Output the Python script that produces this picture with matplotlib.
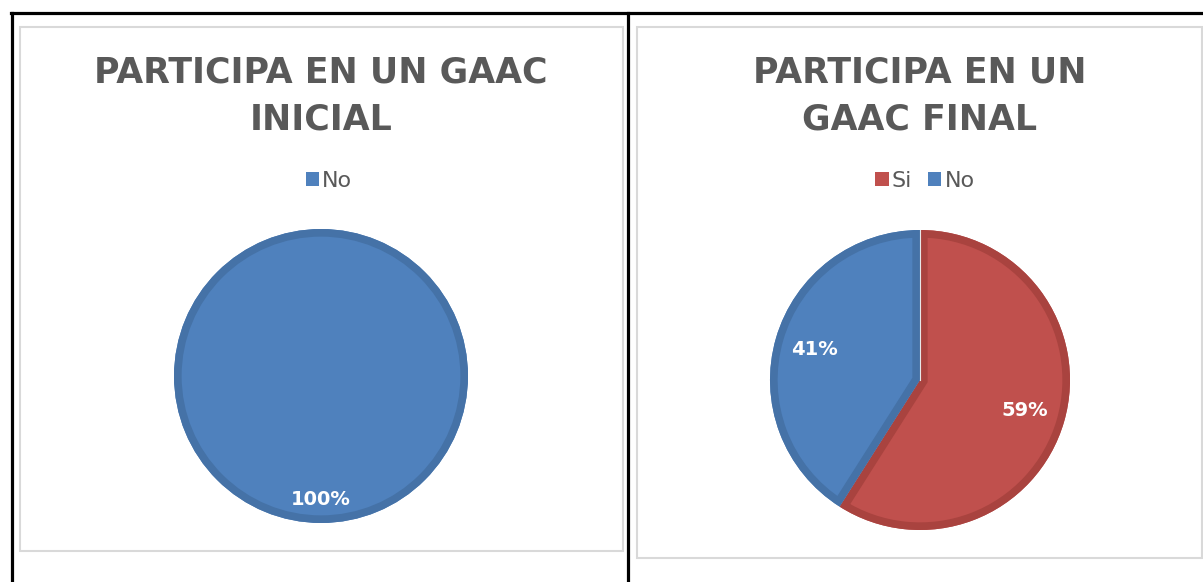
import matplotlib.pyplot as plt
from matplotlib.patches import Rectangle, Patch, PathPatch, Circle
from matplotlib.lines import Line2D

# Datos de las dos gráficas
titulo_inicial = ["PARTICIPA EN UN GAAC", "INICIAL"]
etiquetas_inicial = ["No"]
valores_inicial = [100]

titulo_final = ["PARTICIPA EN UN", "GAAC FINAL"]
etiquetas_final = ["Si", "No"]
valores_final = [59, 41]

colores = {"Si": "#C0504D", "No": "#4F81BD"}
bordes = {"Si": "#A9433F", "No": "#4572A7"}

W, H = 1203, 582
fig = plt.figure(figsize=(W / 100, H / 100), dpi=100)
fig.patch.set_facecolor("white")


# Pasa pixeles (desde arriba a la izquierda) a coordenadas de figura
def fx(x):
    return x / W


def fy(y):
    return 1 - y / H


# Líneas de la tabla
fig.add_artist(Line2D([fx(11), 1], [fy(13), fy(13)], color="black", lw=2.3))
fig.add_artist(Line2D([fx(11.5), fx(11.5)], [fy(13), 0], color="black", lw=2.3))
fig.add_artist(Line2D([fx(628), fx(628)], [fy(13), 0], color="black", lw=2.3))

# Marcos de las gráficas
fig.add_artist(Rectangle((fx(20), fy(551)), fx(623) - fx(20), fy(27) - fy(551),
                         transform=fig.transFigure, fill=False, ec="#D9D9D9", lw=1.5))
fig.add_artist(Rectangle((fx(637), fy(558)), fx(1202) - fx(637), fy(27) - fy(558),
                         transform=fig.transFigure, fill=False, ec="#D9D9D9", lw=1.5))


def dibujar_pie(cx, cy, r, etiquetas, valores, titulo, pctdist, leg_x):
    ax = fig.add_axes([fx(cx - r), fy(cy + r), (2 * r) / W, (2 * r) / H])
    wedges, textos, autotextos = ax.pie(
        valores,
        colors=[colores[e] for e in etiquetas],
        startangle=90,
        counterclock=False,
        autopct="%1.0f%%",
        pctdistance=pctdist,
        wedgeprops=dict(lw=0),
        textprops=dict(color="white", fontsize=14, fontweight="bold"),
    )
    # Borde oscuro por dentro de cada rebanada (recortado a la propia rebanada)
    for w, e in zip(wedges, etiquetas):
        if len(valores) == 1:
            borde = Circle((0, 0), 1, fill=False, ec=bordes[e], lw=11)
            borde.set_clip_path(Circle((0, 0), 1, transform=ax.transData))
        else:
            borde = PathPatch(w.get_path(), fill=False, ec=bordes[e], lw=11,
                              transform=w.get_transform())
            borde.set_clip_path(w.get_path(), w.get_transform())
        ax.add_patch(borde)
        borde.set_zorder(w.get_zorder() + 0.1)
    # Línea clara entre rebanadas
    if len(valores) > 1:
        ax.plot([0, 0], [0, 1], color="#E8E8E8", lw=0.8, zorder=3)
    for t in autotextos:
        t.set_zorder(5)
    ax.set_xlim(-1, 1)
    ax.set_ylim(-1, 1)
    ax.set_aspect("auto")
    ax.axis("off")

    # Título en dos líneas
    fig.text(fx(cx), fy(83), titulo[0], ha="center", va="baseline",
             fontsize=25, fontweight="bold", color="#595959")
    fig.text(fx(cx), fy(130), titulo[1], ha="center", va="baseline",
             fontsize=25, fontweight="bold", color="#595959")

    handles = [Patch(facecolor=colores[e], edgecolor="none", label=e) for e in etiquetas]
    fig.legend(handles=handles, loc="center", bbox_to_anchor=(fx(leg_x), fy(181)),
               ncol=len(etiquetas), frameon=False, fontsize=16,
               handlelength=0.6, handleheight=0.6, handletextpad=0.15,
               columnspacing=0.7, labelcolor="#595959")


dibujar_pie(321, 376, 147, etiquetas_inicial, valores_inicial, titulo_inicial, 0.84, 329)
dibujar_pie(920, 380, 150, etiquetas_final, valores_final, titulo_final, 0.73, 925)

fig.savefig("out.png", dpi=100)
